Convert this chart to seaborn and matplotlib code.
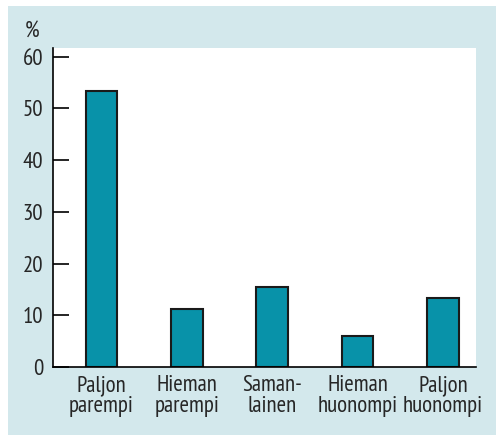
import matplotlib
matplotlib.use("Agg")
import matplotlib.pyplot as plt
import seaborn as sns
from matplotlib.patches import Rectangle

categories = ["Paljon\nparempi", "Hieman\nparempi", "Saman-\nlainen", "Hieman\nhuonompi", "Paljon\nhuonompi"]
values = [53.4, 11.2, 15.4, 5.9, 13.3]
yticks = [0, 10, 20, 30, 40, 50, 60]

sns.set_style("white")
plt.rcParams['font.family'] = ['PT Sans Narrow', 'DejaVu Sans']

W, H = 496, 437
fig = plt.figure(figsize=(W / 100, H / 100), dpi=100)
fig.patch.set_facecolor("white")
# light blue panel behind the chart
fig.patches.append(Rectangle((8 / W, 1 - 435 / H), 1, (435 - 6) / H,
                             transform=fig.transFigure, facecolor="#d3e8ec",
                             edgecolor="none", zorder=-5))

ax = fig.add_axes([53 / W, 1 - 367 / H, (476 - 53) / W, (367 - 48) / H])
ax.set_zorder(1)
ax.set_facecolor("white")

sns.barplot(x=categories, y=values, color="#0892a9", saturation=1, width=0.37,
            edgecolor="#1a1a1a", linewidth=1.5, ax=ax)

ax.set_xlim(-0.568, 4.386)
ax.set_ylim(0, 61.7)
ax.set_yticks(yticks)
ax.tick_params(axis="y", direction="in", length=11.5, width=1.2, color="black",
               labelsize=16.5, pad=7, left=True)
ax.tick_params(axis="x", length=0, labelsize=16.5, pad=6)
for lab in ax.get_xticklabels():
    lab.set_linespacing(1.0)

for s in ["top", "right"]:
    ax.spines[s].set_visible(False)
for s in ["left", "bottom"]:
    ax.spines[s].set_color("black")
    ax.spines[s].set_linewidth(1.2)

ax.set_xlabel("")
ax.set_ylabel("")
fig.text(25 / W, 1 - 31 / H, "%", fontsize=16.5, va="center", ha="left")

fig.savefig("out.png", dpi=100)
